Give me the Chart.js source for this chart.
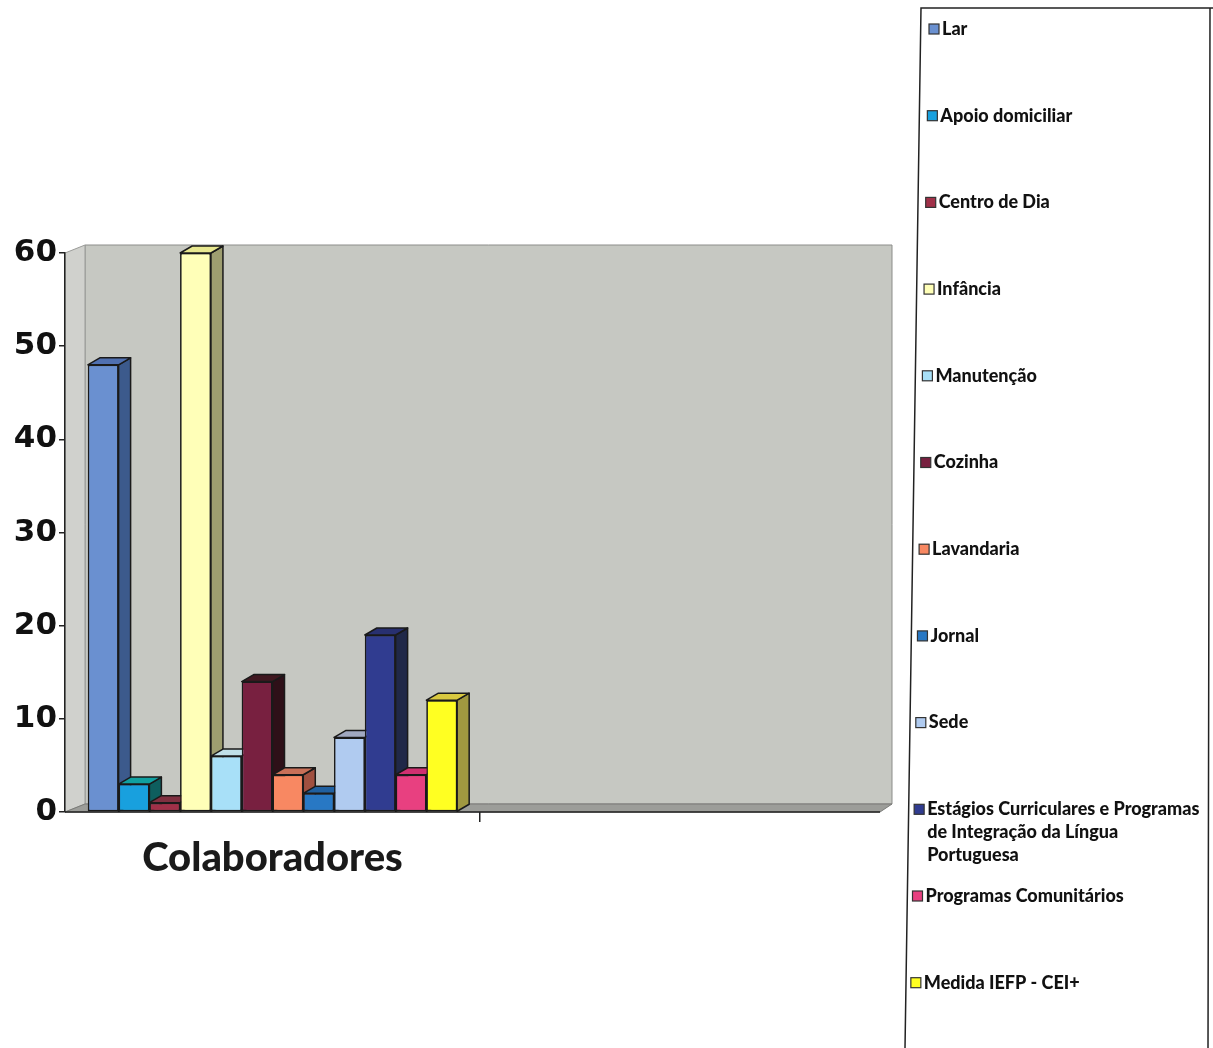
<!DOCTYPE html>
<html>
<head>
<meta charset="utf-8">
<script src="https://cdn.jsdelivr.net/npm/chart.js@4"></script>
<style>
  html, body { margin: 0; padding: 0; background: #fff; }
  #wrap { width: 1213px; height: 1048px; position: relative; }
</style>
</head>
<body>
<div id="wrap"><canvas id="chart"></canvas></div>
<script>
const categories = ["Colaboradores", ""];
const seriesNames = [
  "Lar", "Apoio domiciliar", "Centro de Dia", "Infância", "Manutenção", "Cozinha",
  "Lavandaria", "Jornal", "Sede",
  "Estágios Curriculares e Programas\nde Integração da Língua\nPortuguesa",
  "Programas Comunitários", "Medida IEFP - CEI+"
];
const seriesValues = [48, 3, 1, 60, 6, 14, 4, 2, 8, 19, 4, 12];
const yTicks = [0, 10, 20, 30, 40, 50, 60];

const frontColors = ["#6a90d0", "#18a0de", "#a03048", "#ffffb8", "#a8e0f8", "#782040",
  "#f88862", "#2878c4", "#b0cbf0", "#303c90", "#e84080", "#ffff22"];
const sideColors = ["#3c5a8c", "#0e5e5e", "#5e1e2e", "#9e9e70", "#7c9cac", "#2e1018",
  "#a05040", "#184878", "#7e8eae", "#202848", "#a02850", "#a09840"];
const topColors = ["#5070b0", "#10a0a0", "#803040", "#e8e890", "#c0e0e8", "#401820",
  "#c87058", "#2060a0", "#a0a8c0", "#283070", "#d03070", "#d8c840"];

// grey 3D walls behind the bars, plus the floor's front edge
const walls = {
  id: "walls",
  beforeDraw(chart) {
    const { ctx, chartArea: a } = chart;
    const dxL = 20, dy = 8;
    const backR = a.right - 3, frontR = a.right - 15;
    const poly = (pts, fill, stroke) => {
      ctx.beginPath();
      pts.forEach((p, k) => k ? ctx.lineTo(p[0], p[1]) : ctx.moveTo(p[0], p[1]));
      ctx.closePath();
      ctx.fillStyle = fill; ctx.fill();
      if (stroke) { ctx.strokeStyle = stroke; ctx.lineWidth = 1; ctx.stroke(); }
    };
    ctx.save();
    poly([[a.left + dxL, a.top - dy], [backR, a.top - dy],
          [backR, a.bottom - dy], [a.left + dxL, a.bottom - dy]], "#c6c8c2", "#8c8d8a");
    poly([[a.left, a.top], [a.left + dxL, a.top - dy],
          [a.left + dxL, a.bottom - dy], [a.left, a.bottom]], "#d0d1cd", "#9a9b98");
    poly([[a.left, a.bottom], [a.left + dxL, a.bottom - dy],
          [backR, a.bottom - dy], [frontR, a.bottom]], "#9c9d99", "#7a7b78");
    ctx.strokeStyle = "#222";
    ctx.lineWidth = 1.5;
    ctx.beginPath();
    ctx.moveTo(a.left, a.bottom); ctx.lineTo(frontR, a.bottom);
    ctx.stroke();
    ctx.restore();
  }
};

// redraw bars left to right with side and top faces
const bars3d = {
  id: "bars3d",
  afterDatasetsDraw(chart) {
    const ctx = chart.ctx;
    const dx = 12, dy = 7;
    ctx.save();
    ctx.lineWidth = 1.5;
    ctx.lineJoin = "round";
    ctx.strokeStyle = "#1a1a1a";
    chart.data.datasets.forEach((ds, i) => {
      const meta = chart.getDatasetMeta(i);
      meta.data.forEach((bar, j) => {
        if (ds.data[j] == null) return;
        const { x, y, base, width } = bar.getProps(["x", "y", "base", "width"], true);
        const l = x - width / 2, r = x + width / 2;
        bar.draw(ctx);
        ctx.beginPath();
        ctx.moveTo(r, y); ctx.lineTo(r + dx, y - dy); ctx.lineTo(r + dx, base - dy); ctx.lineTo(r, base);
        ctx.closePath();
        ctx.fillStyle = sideColors[i]; ctx.fill(); ctx.stroke();
        ctx.beginPath();
        ctx.moveTo(l, y); ctx.lineTo(l + dx, y - dy); ctx.lineTo(r + dx, y - dy); ctx.lineTo(r, y);
        ctx.closePath();
        ctx.fillStyle = topColors[i]; ctx.fill(); ctx.stroke();
      });
    });
    ctx.restore();
  }
};

// tall legend box on the right
const sideLegend = {
  id: "sideLegend",
  afterDraw(chart) {
    const ctx = chart.ctx;
    ctx.save();
    ctx.strokeStyle = "#222";
    ctx.lineWidth = 1.5;
    ctx.beginPath();
    ctx.moveTo(1213, 8); ctx.lineTo(921, 8); ctx.lineTo(905, 1048);
    ctx.moveTo(1210, 8); ctx.lineTo(1208, 1048);
    ctx.stroke();
    ctx.font = "900 18px Lato";
    ctx.textBaseline = "middle";
    chart.data.datasets.forEach((ds, i) => {
      const y = 29 + i * 86.7;
      const mx = 929 - i * 1.65;
      ctx.fillStyle = ds.backgroundColor;
      ctx.fillRect(mx, y - 5, 10, 10);
      ctx.lineWidth = 1.2;
      ctx.strokeStyle = "#333";
      ctx.strokeRect(mx, y - 5, 10, 10);
      ctx.fillStyle = "#111";
      ds.legendLines.forEach((t, k) => ctx.fillText(t, mx + 13, y + k * 23));
    });
    ctx.restore();
  }
};

const datasets = seriesNames.map((name, i) => ({
  label: name.replace(/\n/g, " "),
  legendLines: name.split("\n"),
  data: [seriesValues[i], null],
  backgroundColor: frontColors[i],
  borderColor: "#1a1a1a",
  borderWidth: 1.5,
  borderSkipped: false,
  barPercentage: 1,
  categoryPercentage: 0.89
}));

new Chart(document.getElementById("chart"), {
  type: "bar",
  data: { labels: categories, datasets: datasets },
  plugins: [walls, bars3d, sideLegend],
  options: {
    responsive: true,
    maintainAspectRatio: false,
    animation: false,
    layout: { padding: { top: 253, right: 318, bottom: 156, left: 0 } },
    plugins: {
      legend: { display: false },
      tooltip: { enabled: false }
    },
    scales: {
      x: {
        afterFit: s => { s.height = 80; },
        grid: {
          drawOnChartArea: false,
          offset: true,
          tickLength: 10,
          lineWidth: 1.5,
          color: c => c.index === 1 ? "#222" : "transparent"
        },
        border: { display: false },
        ticks: {
          color: "#1a1a1a",
          padding: 12,
          font: { family: "Lato", size: 40, weight: "900" }
        }
      },
      y: {
        min: 0,
        max: 60,
        afterFit: s => { s.width = 65; },
        afterBuildTicks: s => { s.ticks = yTicks.map(v => ({ value: v })); },
        grid: { drawOnChartArea: false, tickLength: 6, color: "#222", lineWidth: 1.5 },
        border: { color: "#222", width: 1.5 },
        ticks: {
          color: "#111",
          padding: 2,
          font: { family: "DejaVu Sans", size: 31, weight: "bold" }
        }
      }
    }
  }
});
</script>
</body>
</html>
